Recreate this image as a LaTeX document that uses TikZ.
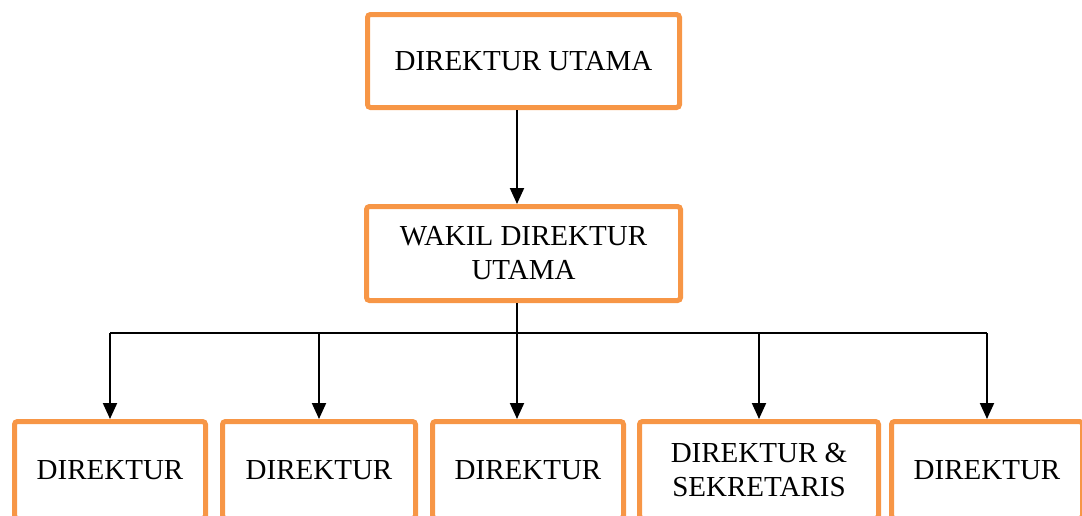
\documentclass[tikz,border=0pt]{standalone}
\usepackage{fontspec}
\setmainfont{Liberation Serif}
\usetikzlibrary{arrows.meta,positioning}
\definecolor{boxorange}{HTML}{F79646}

\begin{document}
\begin{tikzpicture}[
    node distance=47pt and 6pt,
    box/.style={rectangle, draw=boxorange, line width=2.5pt, rounded corners=1.5pt, align=center, inner sep=2pt, minimum width=95.5pt, minimum height=48.5pt, font=\fontsize{14.5}{17}\selectfont},
    arrow/.style={-{Triangle[width=7pt,length=8pt]}, line width=1pt, draw=black},
    link/.style={line width=1pt, draw=black}
]
    \useasboundingbox (0,0) rectangle (541pt,-257.5pt);
    \clip (0,0) rectangle (541pt,-257.5pt);
    % Pimpinan
    \node[box, minimum width=156pt, minimum height=46.5pt] (dirut) at (261.75pt,-30.5pt) {DIREKTUR UTAMA};
    \node[box, minimum width=157pt, minimum height=47pt, below=of dirut] (wadirut) {WAKIL DIREKTUR\\UTAMA};
    % Direktur
    \node[box] (dir1) at (55pt,-235pt) {DIREKTUR};
    \node[box, minimum width=96.5pt, right=of dir1] (dir2) {DIREKTUR};
    \node[box, right=of dir2] (dir3) {DIREKTUR};
    \node[box, minimum width=119.5pt, right=5.5pt of dir3] (dir4) {DIREKTUR \&\\SEKRETARIS};
    \node[box, right=4pt of dir4] (dir5) {DIREKTUR};

    % Arrows
    \coordinate (bus) at ([xshift=-3.25pt,yshift=-15pt]wadirut.south);
    \draw[arrow] (dirut.south -| bus) -- (wadirut.north -| bus);
    \draw[link] (wadirut.south -| bus) -- (bus);
    \draw[link] (bus -| dir1.north) -- (bus -| dir5.north);
    \foreach \d in {dir1,dir2,dir4,dir5}
        \draw[arrow] (bus -| \d.north) -- (\d.north);
    \draw[arrow] (bus) -- (dir3.north -| bus);
\end{tikzpicture}
\end{document}
